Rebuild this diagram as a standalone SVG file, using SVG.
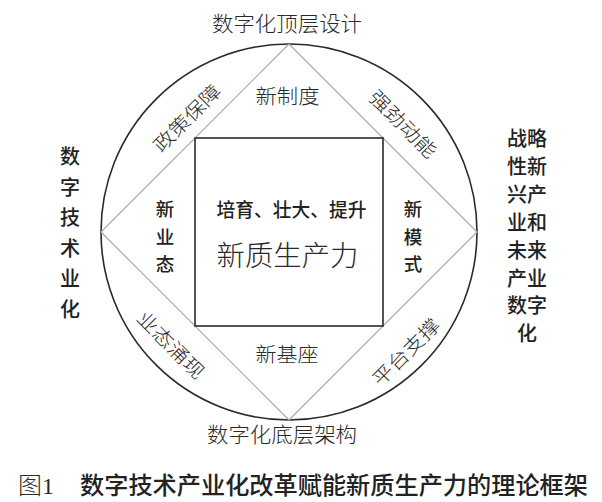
<svg xmlns="http://www.w3.org/2000/svg" width="602" height="502" viewBox="0 0 602 502">
<style>
.song{font-family:"Noto Sans CJK SC","Noto Sans CJK JP",sans-serif;font-weight:300;fill:#2a2a2a;}
.hei{font-family:"Noto Sans CJK SC","Noto Sans CJK JP",sans-serif;font-weight:500;fill:#222222;}
.v{text-anchor:middle;font-size:20px;}
.vs{text-anchor:middle;font-size:18.5px;}
.diag{stroke:#a8a8a8;stroke-width:1.2;fill:none;}
.frame{stroke:#2a2a2a;stroke-width:1.6;fill:none;}
</style>
<rect width="602" height="502" fill="#ffffff"/>
<g id="circle-frame">
<circle class="frame" cx="289" cy="232" r="188"/>
</g>
<g id="connectors">
<line class="diag" x1="289" y1="44" x2="101" y2="232"/>
<line class="diag" x1="101" y1="232" x2="289" y2="420"/>
<line class="diag" x1="289" y1="420" x2="477" y2="232"/>
<line class="diag" x1="477" y1="232" x2="289" y2="44"/>
</g>
<g id="core">
<rect class="frame" x="195" y="138" width="188" height="188"/>
<text class="hei" x="291.5" y="217" font-size="19" text-anchor="middle" textLength="150" lengthAdjust="spacingAndGlyphs">培育、壮大、提升</text>
<text class="song" x="287.5" y="266" font-size="28" text-anchor="middle" textLength="142" lengthAdjust="spacingAndGlyphs">新质生产力</text>
</g>
<g id="top-title"><text class="song" x="287" y="31" font-size="21" text-anchor="middle" textLength="150" lengthAdjust="spacingAndGlyphs">数字化顶层设计</text></g>
<g id="bottom-title"><text class="song" x="282" y="442" font-size="21" text-anchor="middle" textLength="150" lengthAdjust="spacingAndGlyphs">数字化底层架构</text></g>
<g id="new-system"><text class="song" x="287.5" y="104" font-size="20" text-anchor="middle" textLength="64" lengthAdjust="spacingAndGlyphs">新制度</text></g>
<g id="new-base"><text class="song" x="287" y="362" font-size="20" text-anchor="middle" textLength="63" lengthAdjust="spacingAndGlyphs">新基座</text></g>
<g id="new-format">
<text class="hei vs" x="165" y="216">新</text>
<text class="hei vs" x="165" y="243.5">业</text>
<text class="hei vs" x="165" y="271">态</text>
</g>
<g id="new-mode">
<text class="hei vs" x="413" y="216">新</text>
<text class="hei vs" x="413" y="243.5">模</text>
<text class="hei vs" x="413" y="271">式</text>
</g>
<g id="policy"><text class="song" font-size="19" text-anchor="middle" dominant-baseline="central" transform="translate(186,117) rotate(-45)" textLength="86" lengthAdjust="spacingAndGlyphs">政策保障</text></g>
<g id="drive"><text class="song" font-size="19" text-anchor="middle" dominant-baseline="central" transform="translate(404,123) rotate(45)" textLength="86" lengthAdjust="spacingAndGlyphs">强劲动能</text></g>
<g id="emerge"><text class="song" font-size="19" text-anchor="middle" dominant-baseline="central" transform="translate(172,344) rotate(45)" textLength="86" lengthAdjust="spacingAndGlyphs">业态涌现</text></g>
<g id="platform"><text class="song" font-size="19" text-anchor="middle" dominant-baseline="central" transform="translate(405,351) rotate(-45)" textLength="86" lengthAdjust="spacingAndGlyphs">平台支撑</text></g>
<g id="left-col">
<text class="hei v" x="70" y="164">数</text>
<text class="hei v" x="70" y="195">字</text>
<text class="hei v" x="70" y="225">技</text>
<text class="hei v" x="70" y="256">术</text>
<text class="hei v" x="70" y="286">业</text>
<text class="hei v" x="70" y="317">化</text>
</g>
<g id="right-col">
<text class="hei v" x="527" y="146">战略</text>
<text class="hei v" x="527" y="174">性新</text>
<text class="hei v" x="527" y="202">兴产</text>
<text class="hei v" x="527" y="230">业和</text>
<text class="hei v" x="527" y="258">未来</text>
<text class="hei v" x="527" y="286">产业</text>
<text class="hei v" x="527" y="313">数字</text>
<text class="hei v" x="527" y="341">化</text>
</g>
<g id="caption">
<text x="18" y="494" font-size="24" font-family="'Liberation Serif','Noto Sans CJK SC',serif" font-weight="300" fill="#2a2a2a">图1</text>
<text class="hei" x="80" y="494" font-size="24" font-weight="700" textLength="508" lengthAdjust="spacingAndGlyphs">数字技术产业化改革赋能新质生产力的理论框架</text>
</g>
</svg>
